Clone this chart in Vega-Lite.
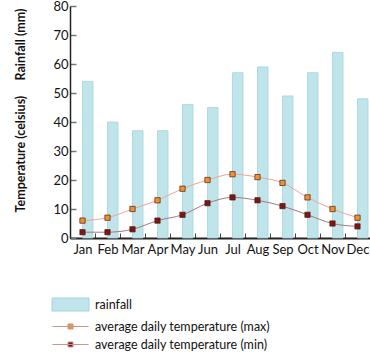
{
  "$schema": "https://vega.github.io/schema/vega-lite/v6.json",
  "autosize": "none",
  "width": 300,
  "height": 232,
  "padding": {"left": 70, "top": 6, "right": 0, "bottom": 116},
  "background": "white",
  "config": {
    "font": "Lato",
    "view": {"stroke": null},
    "axis": {"labelFont": "Lato", "titleFont": "Lato", "labelColor": "#111", "titleColor": "#111", "grid": false},
    "axisY": {
      "values": [0, 10, 20, 30, 40, 50, 60, 70, 80], "labelOverlap": false,
      "titleFontSize": 12.5, "titleFontWeight": "bold",
      "titleX": -50, "titleY": 104, "titleAngle": -90, "titleAlign": "center", "titleBaseline": "middle",
      "labelFontSize": 13, "labelPadding": 8, "labelFlush": false,
      "tickSize": -6, "tickColor": "#777", "tickWidth": 1.5,
      "domainColor": "#222", "domainWidth": 1.5
    },
    "legend": {"labelFont": "Lato", "labelColor": "#111", "labelLimit": 300, "padding": 0}
  },
  "data": {
    "values": [
      {"month": "Jan", "rainfall": 54, "tmax": 6, "tmin": 2},
      {"month": "Feb", "rainfall": 40, "tmax": 7, "tmin": 2},
      {"month": "Mar", "rainfall": 37, "tmax": 10, "tmin": 3},
      {"month": "Apr", "rainfall": 37, "tmax": 13, "tmin": 6},
      {"month": "May", "rainfall": 46, "tmax": 17, "tmin": 8},
      {"month": "Jun", "rainfall": 45, "tmax": 20, "tmin": 12},
      {"month": "Jul", "rainfall": 57, "tmax": 22, "tmin": 14},
      {"month": "Aug", "rainfall": 59, "tmax": 21, "tmin": 13},
      {"month": "Sep", "rainfall": 49, "tmax": 19, "tmin": 11},
      {"month": "Oct", "rainfall": 57, "tmax": 14, "tmin": 8},
      {"month": "Nov", "rainfall": 64, "tmax": 10, "tmin": 5},
      {"month": "Dec", "rainfall": 48, "tmax": 7, "tmin": 4}
    ]
  },
  "encoding": {
    "x": {
      "field": "month", "type": "ordinal", "sort": null,
      "scale": {"paddingInner": 0, "paddingOuter": 0},
      "axis": {
        "title": null, "labelAngle": 0, "labelFontSize": 13, "labelPadding": 10,
        "tickBand": "extent", "tickSize": -5, "tickColor": "#444", "tickWidth": 1,
        "domainColor": "#222", "domainWidth": 2, "labelOverlap": false
      }
    }
  },
  "layer": [
    {
      "mark": {"type": "bar", "width": 10.5, "xOffset": 5.25, "stroke": "#a4d3db", "strokeWidth": 0.8},
      "encoding": {
        "y": {
          "field": "rainfall", "type": "quantitative",
          "scale": {"domain": [0, 80], "nice": false},
          "axis": {"title": "Temperature (celsius)\u00a0\u00a0\u00a0\u00a0\u00a0Rainfall (mm)"}
        },
        "color": {
          "datum": "rainfall",
          "scale": {"domain": ["rainfall"], "range": ["#bfe5eb"]},
          "legend": {
            "orient": "none", "legendX": -10, "legendY": 288, "title": null,
            "symbolSize": 400, "symbolType": "M-1.85,-0.65H1.85V0.65H-1.85Z",
            "symbolStrokeColor": "#a4d3db", "symbolStrokeWidth": 1,
            "labelFontSize": 12.5, "labelOffset": 14
          }
        }
      }
    },
    {
      "transform": [{"fold": ["tmax", "tmin"], "as": ["series", "temp"]}],
      "layer": [
        {
          "mark": {"type": "line", "interpolate": "monotone", "strokeWidth": 1},
          "encoding": {
            "y": {"field": "temp", "type": "quantitative", "axis": {"title": "Temperature (celsius)\u00a0\u00a0\u00a0\u00a0\u00a0Rainfall (mm)"}},
            "stroke": {
              "field": "series", "type": "nominal",
              "scale": {"domain": ["tmax", "tmin"], "range": ["#eea59a", "#a87878"]},
              "legend": null
            }
          }
        },
        {
          "mark": {"type": "point", "shape": "square", "filled": true, "size": 28, "stroke": "#4a2010", "strokeWidth": 0.7, "opacity": 1},
          "encoding": {
            "y": {"field": "temp", "type": "quantitative", "axis": {"title": "Temperature (celsius)\u00a0\u00a0\u00a0\u00a0\u00a0Rainfall (mm)"}},
            "fill": {
              "field": "series", "type": "nominal",
              "scale": {"domain": ["tmax", "tmin"], "range": ["#f0922e", "#7d1616"]},
              "legend": {
                "orient": "none", "legendX": -10, "legendY": 310, "title": null,
                "symbolSize": 400, "symbolType": "M-1.8,0H1.8M-0.25,-0.25H0.25V0.25H-0.25Z",
                "symbolStrokeColor": "#c9958e", "symbolStrokeWidth": 1, "symbolOpacity": 1,
                "labelFontSize": 12.5, "labelOffset": 14, "rowPadding": 1,
                "labelExpr": "datum.label == 'tmax' ? 'average daily temperature (max)' : 'average daily temperature (min)'"
              }
            }
          }
        }
      ]
    }
  ],
  "resolve": {"scale": {"stroke": "independent"}}
}
